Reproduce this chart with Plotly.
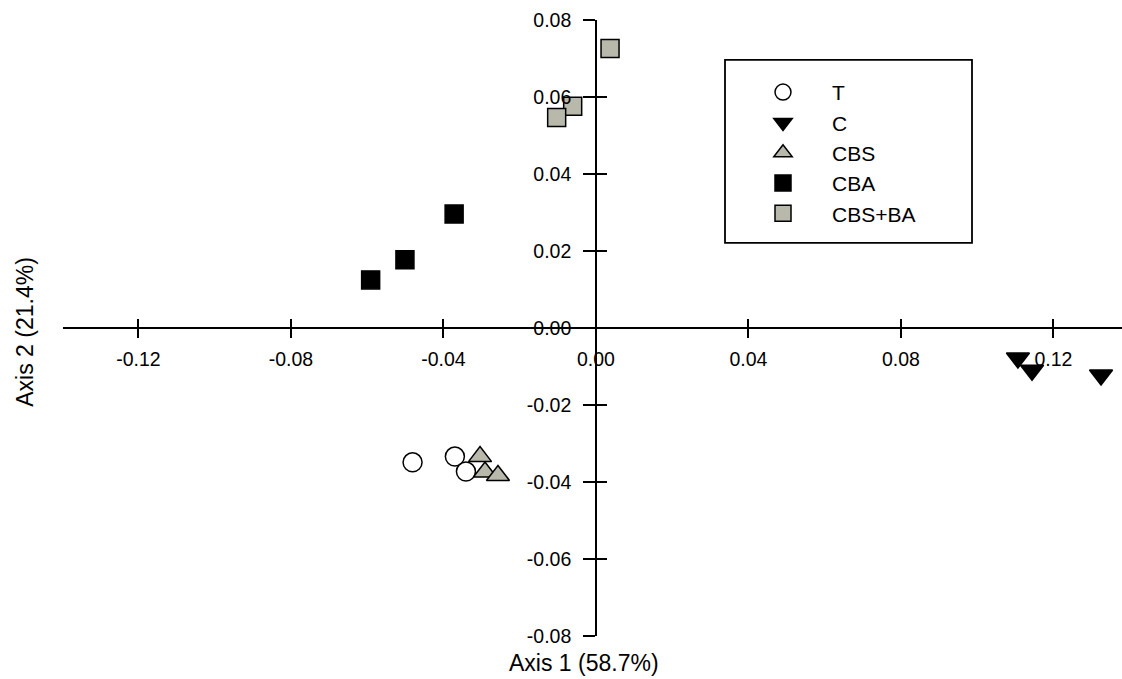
import plotly.graph_objects as go

# ---- data ----
groups = ["T", "C", "CBS", "CBA", "CBS+BA"]
T_x = [-0.0481, -0.0370, -0.0341]
T_y = [-0.0349, -0.0334, -0.0373]
C_x = [0.1107, 0.1144, 0.1325]
C_y = [-0.0078, -0.0110, -0.0122]
CBS_x = [-0.0304, -0.0291, -0.0257]
CBS_y = [-0.0334, -0.0374, -0.0383]
CBA_x = [-0.0591, -0.0501, -0.0372]
CBA_y = [0.0125, 0.0177, 0.0296]
CBSBA_x = [0.0037, -0.0061, -0.0103]
CBSBA_y = [0.0726, 0.0576, 0.0547]

x_ticks = [-0.12, -0.08, -0.04, 0.00, 0.04, 0.08, 0.12]
x_ticklabels = ["-0.12", "-0.08", "-0.04", "0.00", "0.04", "0.08", "0.12"]
y_ticks = [-0.08, -0.06, -0.04, -0.02, 0.00, 0.02, 0.04, 0.06, 0.08]
y_ticklabels = ["-0.08", "-0.06", "-0.04", "-0.02", "0.00", "0.02", "0.04", "0.06", "0.08"]

x_title = "Axis 1 (58.7%)"
y_title = "Axis 2 (21.4%)"

# ---- styling ----
GRAY = "#b9b9ab"
FONT = "Liberation Sans, Arial, sans-serif"
XR = [-0.1398, 0.1380]
YR = [-0.08, 0.08]

styles = {
    "T": dict(symbol="circle", color="white", size=19),
    "C": dict(symbol="triangle-down", color="black", size=20),
    "CBS": dict(symbol="triangle-up", color=GRAY, size=20),
    "CBA": dict(symbol="square", color="black", size=18),
    "CBS+BA": dict(symbol="square", color=GRAY, size=18),
}
data = {
    "T": (T_x, T_y),
    "C": (C_x, C_y),
    "CBS": (CBS_x, CBS_y),
    "CBA": (CBA_x, CBA_y),
    "CBS+BA": (CBSBA_x, CBSBA_y),
}

fig = go.Figure()
for g in groups:
    xs, ys = data[g]
    st = styles[g]
    fig.add_trace(go.Scatter(
        x=xs, y=ys, mode="markers", name=g,
        marker=dict(symbol=st["symbol"], color=st["color"], size=st["size"],
                    line=dict(color="black", width=1.5)),
    ))

# dummy trace to activate overlay axes (for ticks on the other side)
fig.add_trace(go.Scatter(x=[None], y=[None], xaxis="x2", yaxis="y2",
                         showlegend=False, hoverinfo="skip"))

ypos_x0 = (0 - XR[0]) / (XR[1] - XR[0])
xpos_y0 = (0 - YR[0]) / (YR[1] - YR[0])

tickfont = dict(family=FONT, size=19.5, color="black")

fig.update_layout(
    width=1122, height=679,
    margin=dict(l=63, r=0, t=20, b=42.5),
    paper_bgcolor="white", plot_bgcolor="white",
    showlegend=True,
    xaxis=dict(range=XR, anchor="free", position=xpos_y0,
               showline=True, linecolor="black", linewidth=1.5,
               showgrid=False, zeroline=False,
               tickmode="array", tickvals=x_ticks, ticktext=x_ticklabels,
               ticks="outside", ticklen=9, tickwidth=1.5, tickcolor="black",
               tickfont=tickfont, ticklabelstandoff=5),
    yaxis=dict(range=YR, anchor="free", position=ypos_x0,
               showline=True, linecolor="black", linewidth=1.5,
               showgrid=False, zeroline=False,
               tickmode="array", tickvals=y_ticks, ticktext=y_ticklabels,
               ticks="outside", ticklen=12, tickwidth=1.5, tickcolor="black",
               tickfont=tickfont, ticklabelstandoff=8),
    xaxis2=dict(range=XR, overlaying="x", anchor="free", position=xpos_y0,
                showline=False, showgrid=False, zeroline=False,
                tickmode="array", tickvals=x_ticks, showticklabels=False,
                ticks="inside", ticklen=9, tickwidth=1.5, tickcolor="black"),
    yaxis2=dict(range=YR, overlaying="y", anchor="free", position=ypos_x0,
                showline=False, showgrid=False, zeroline=False,
                tickmode="array", tickvals=y_ticks, showticklabels=False,
                ticks="inside", ticklen=10, tickwidth=1.5, tickcolor="black"),
    legend=dict(x=(734 - 63) / 1059, y=(636.5 - 72) / 616.5,
                xanchor="left", yanchor="top",
                bgcolor="rgba(0,0,0,0)", borderwidth=0,
                font=dict(family=FONT, size=21, color="black"),
                itemwidth=88, traceorder="normal"),
    shapes=[dict(type="rect", xref="paper", yref="paper",
                 x0=(725 - 63) / 1059, x1=(972 - 63) / 1059,
                 y0=(636.5 - 243) / 616.5, y1=(636.5 - 60) / 616.5,
                 line=dict(color="black", width=1.8), fillcolor="rgba(0,0,0,0)",
                 layer="below")],
    annotations=[
        dict(text=x_title, xref="paper", yref="paper",
             x=(584 - 63) / 1059, y=(636.5 - 664) / 616.5,
             xanchor="center", yanchor="middle", showarrow=False,
             font=dict(family=FONT, size=23, color="black")),
        dict(text=y_title, xref="paper", yref="paper",
             x=(25 - 63) / 1059, y=(636.5 - 332) / 616.5,
             xanchor="center", yanchor="middle", showarrow=False, textangle=-90,
             font=dict(family=FONT, size=23, color="black")),
    ],
)

# remove the default 8px page margin so the figure fills the window exactly
fig.write_html(
    "out.html",
    config={"displayModeBar": False},
    post_script="document.body.style.margin='0';document.body.style.overflow='hidden';",
)
